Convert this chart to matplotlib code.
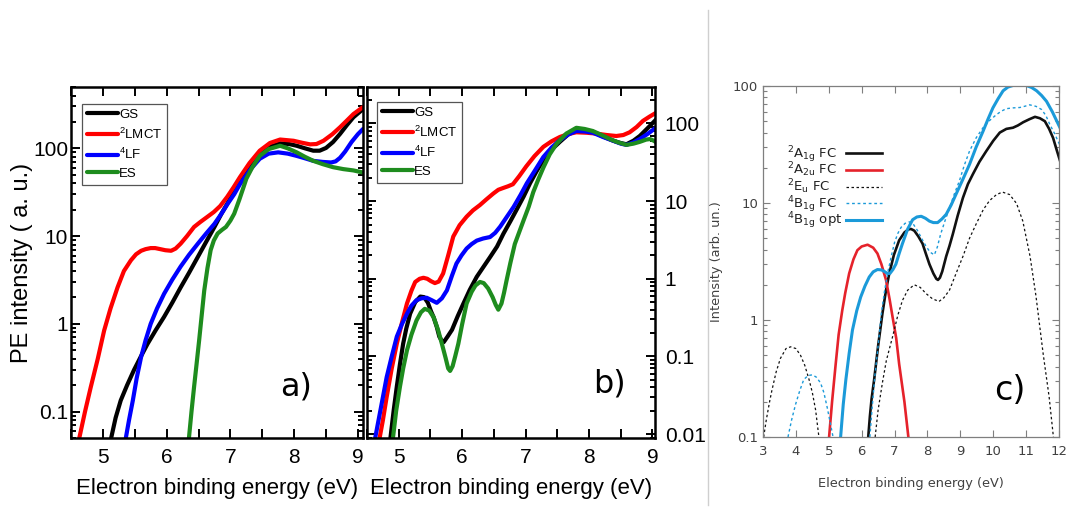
import numpy as np
import matplotlib
matplotlib.use("Agg")
import matplotlib.pyplot as plt
from matplotlib.ticker import FixedLocator, NullFormatter, LogLocator, MultipleLocator
from matplotlib.lines import Line2D

plt.rcParams['font.family'] = ['Liberation Sans', 'DejaVu Sans']
plt.rcParams['mathtext.fontset'] = 'custom'
plt.rcParams['mathtext.rm'] = 'Liberation Sans'
plt.rcParams['mathtext.it'] = 'Liberation Sans:italic'
plt.rcParams['mathtext.bf'] = 'Liberation Sans:bold'

# ---------------- panel a): computed PE spectra ----------------
a_gs_x = [5.13, 5.20, 5.28, 5.38, 5.49, 5.60, 5.70, 5.83, 5.96, 6.09, 6.22, 6.35, 6.49, 6.62, 6.75, 6.86, 6.96, 7.06,
          7.15, 7.30, 7.46, 7.62, 7.78, 7.92, 8.04, 8.17, 8.30, 8.40, 8.50, 8.61, 8.72, 8.83, 8.93, 9.08]
a_gs_y = [0.05, 0.085, 0.134, 0.20, 0.30, 0.43, 0.59, 0.85, 1.2, 1.75, 2.6, 3.8, 5.8, 8.6, 12.7, 18, 24, 32,
          43, 62, 86, 104, 114, 112, 107, 100, 94, 94, 101, 118, 146, 185, 226, 280]

a_lmct_x = [4.63, 4.72, 4.81, 4.92, 5.02, 5.12, 5.23, 5.33, 5.44, 5.52, 5.60, 5.67, 5.75, 5.82, 5.90, 5.98, 6.07, 6.14,
            6.22, 6.32, 6.43, 6.53, 6.64, 6.74, 6.84, 6.95, 7.05, 7.15, 7.30, 7.46, 7.62, 7.78, 7.99, 8.12, 8.25, 8.35,
            8.46, 8.60, 8.72, 8.82, 8.93, 9.08]
a_lmct_y = [0.05, 0.10, 0.19, 0.40, 0.84, 1.5, 2.6, 4.0, 5.3, 6.2, 6.8, 7.1, 7.3, 7.3, 7.1, 6.9, 6.8, 7.2,
            8.2, 10, 12.7, 14.5, 16.6, 18.8, 22, 28, 36, 47, 68, 94, 115, 126, 122, 116, 111, 112,
            122, 145, 174, 205, 246, 295]

a_lf_x = [5.36, 5.41, 5.47, 5.53, 5.60, 5.67, 5.75, 5.85, 5.96, 6.09, 6.22, 6.35, 6.49, 6.62, 6.75, 6.86, 6.96, 7.06,
          7.15, 7.30, 7.46, 7.60, 7.75, 7.90, 8.04, 8.17, 8.30, 8.45, 8.58, 8.65, 8.72, 8.80, 8.90, 9.00, 9.08]
a_lf_y = [0.05, 0.08, 0.134, 0.24, 0.42, 0.65, 1.0, 1.5, 2.2, 3.2, 4.5, 6.1, 8.2, 10.7, 13.8, 18, 23.5, 30,
          39, 56, 76, 87, 90, 87, 82, 77, 72, 70, 69, 71, 78, 92, 118, 145, 166]

a_es_x = [6.35, 6.39, 6.43, 6.47, 6.51, 6.55, 6.59, 6.64, 6.69, 6.74, 6.80, 6.87, 6.93, 7.00, 7.06, 7.14, 7.20, 7.25,
          7.35, 7.46, 7.60, 7.78, 7.90, 8.04, 8.17, 8.30, 8.45, 8.61, 8.77, 8.93, 9.08]
a_es_y = [0.05, 0.10, 0.19, 0.35, 0.65, 1.25, 2.4, 4.3, 6.9, 8.9, 10.7, 11.8, 12.7, 15, 18, 26, 35, 45,
          62, 82, 98, 107, 100, 90, 80, 72, 66, 61, 58, 56, 53]

# ---------------- panel b) ----------------
b_gs_x = [4.87, 4.92, 4.97, 5.02, 5.07, 5.12, 5.18, 5.26, 5.34, 5.40, 5.46, 5.51, 5.55, 5.60, 5.64, 5.68, 5.71, 5.77,
          5.84, 5.93, 6.02, 6.12, 6.23, 6.33, 6.44, 6.55, 6.65, 6.76, 6.86, 6.97, 7.07, 7.17, 7.28, 7.41, 7.54, 7.67,
          7.80, 7.93, 8.06, 8.22, 8.38, 8.50, 8.59, 8.70, 8.80, 8.93, 9.06]
b_gs_y = [0.009, 0.02, 0.041, 0.08, 0.146, 0.23, 0.355, 0.50, 0.59, 0.58, 0.49, 0.38, 0.32, 0.24, 0.18, 0.158, 0.153, 0.18,
          0.22, 0.33, 0.48, 0.72, 1.06, 1.4, 1.9, 2.6, 3.8, 5.5, 7.8, 11.5, 17, 24, 34, 46, 58, 72,
          82, 82, 78, 68, 60, 56, 54, 60, 69, 88, 113]

b_lmct_x = [4.70, 4.75, 4.81, 4.89, 4.97, 5.05, 5.13, 5.20, 5.26, 5.33, 5.39, 5.45, 5.51, 5.57, 5.63, 5.70, 5.78, 5.86,
            5.96, 6.07, 6.17, 6.28, 6.38, 6.49, 6.57, 6.65, 6.72, 6.80, 6.90, 7.01, 7.14, 7.28, 7.41, 7.54, 7.67, 7.80,
            7.96, 8.12, 8.28, 8.43, 8.54, 8.64, 8.75, 8.85, 8.95, 9.06]
b_lmct_y = [0.009, 0.015, 0.03, 0.07, 0.146, 0.27, 0.48, 0.70, 0.91, 1.0, 1.03, 1.0, 0.93, 0.88, 0.92, 1.17, 2.0, 3.5,
            4.9, 6.3, 7.6, 8.9, 10.5, 12.5, 14, 14.8, 15.5, 16.5, 21, 28, 38, 50, 59, 67, 73, 77,
            76, 74, 71, 69, 71, 77, 90, 108, 122, 138]

b_lf_x = [4.63, 4.72, 4.81, 4.89, 4.97, 5.05, 5.13, 5.20, 5.28, 5.36, 5.44, 5.52, 5.60, 5.68, 5.76, 5.84, 5.91, 5.99,
          6.07, 6.15, 6.23, 6.33, 6.44, 6.52, 6.60, 6.70, 6.81, 6.92, 7.02, 7.15, 7.28, 7.41, 7.54, 7.67, 7.80, 7.93,
          8.06, 8.22, 8.38, 8.50, 8.59, 8.70, 8.80, 8.93, 9.06]
b_lf_y = [0.009, 0.022, 0.054, 0.10, 0.18, 0.26, 0.355, 0.45, 0.53, 0.56, 0.57, 0.53, 0.49, 0.56, 0.71, 1.1, 1.57, 2.0,
          2.45, 2.8, 3.1, 3.3, 3.45, 3.9, 4.7, 6.2, 8.4, 12, 17, 25, 37, 49, 61, 72, 80, 79,
          76, 67, 60, 55, 53, 57, 63, 74, 89]

b_es_x = [4.91, 4.96, 5.02, 5.07, 5.13, 5.20, 5.28, 5.35, 5.41, 5.48, 5.55, 5.62, 5.68, 5.74, 5.78, 5.81, 5.85, 5.89,
          5.94, 6.00, 6.07, 6.15, 6.21, 6.28, 6.34, 6.41, 6.48, 6.53, 6.57, 6.62, 6.66, 6.70, 6.76, 6.83, 6.90, 6.97,
          7.05, 7.12, 7.20, 7.28, 7.38, 7.49, 7.64, 7.80, 7.93, 8.06, 8.20, 8.33, 8.46, 8.59, 8.70, 8.80, 8.90, 8.96,
          9.02, 9.09]
b_es_y = [0.009, 0.02, 0.041, 0.07, 0.12, 0.19, 0.29, 0.37, 0.41, 0.39, 0.32, 0.22, 0.146, 0.095, 0.07, 0.065, 0.075, 0.10,
          0.146, 0.26, 0.48, 0.68, 0.82, 0.91, 0.88, 0.75, 0.58, 0.46, 0.40, 0.48, 0.66, 0.95, 1.6, 2.8, 4.0, 5.7,
          8.5, 13, 19, 27, 40, 55, 74, 88, 85, 80, 71, 63, 57, 53, 55, 58, 62, 63,
          60, 55]

# ---------------- panel c): Franck-Condon spectra ----------------
c_a1g_x = [6.20, 6.25, 6.30, 6.38, 6.50, 6.63, 6.74, 6.84, 6.98, 7.14, 7.30, 7.42, 7.50, 7.60, 7.72, 7.85, 7.95, 8.06,
           8.18, 8.27, 8.32, 8.38, 8.45, 8.57, 8.67, 8.77, 8.92, 9.08, 9.23, 9.38, 9.58, 9.79, 10.00, 10.20, 10.40,
           10.60, 10.75, 10.91, 11.10, 11.27, 11.42, 11.57, 11.70, 11.82, 11.92, 12.03]
c_a1g_y = [0.1, 0.15, 0.21, 0.31, 0.6, 1.13, 1.8, 2.5, 3.6, 4.8, 5.6, 5.95, 6.0, 5.8, 5.2, 4.5, 3.7, 3.0,
           2.5, 2.25, 2.2, 2.3, 2.6, 3.5, 4.3, 5.4, 7.8, 11.1, 14.5, 17.6, 22.5, 27.8, 34, 40, 43,
           44, 46, 49, 52, 54.5, 53, 50, 43, 36, 29, 23]

c_a2u_x = [5.01, 5.10, 5.21, 5.30, 5.41, 5.50, 5.62, 5.75, 5.87, 6.00, 6.18, 6.35, 6.48, 6.60, 6.74, 6.85, 6.94, 7.05,
           7.14, 7.30, 7.42]
c_a2u_y = [0.1, 0.2, 0.42, 0.75, 1.21, 1.7, 2.5, 3.3, 3.95, 4.25, 4.4, 4.15, 3.7, 3.0, 2.2, 1.5, 1.06, 0.7,
           0.42, 0.2, 0.1]

c_eu_x = [3.02, 3.10, 3.20, 3.27, 3.40, 3.53, 3.70, 3.84, 4.00, 4.14, 4.27, 4.40, 4.50, 4.60, 4.65, 4.70, np.nan,
          6.41, 6.50, 6.63, 6.75, 6.94, 7.10, 7.24, 7.40, 7.60, 7.78, 7.96, 8.15, 8.35, 8.50, 8.67, 8.87, 9.08, 9.28,
          9.49, 9.70, 9.89, 10.10, 10.28, 10.50, 10.71, 10.90, 11.12, 11.30, 11.52, 11.70, 11.83]
c_eu_y = [0.1, 0.14, 0.2, 0.25, 0.36, 0.47, 0.57, 0.59, 0.57, 0.50, 0.41, 0.31, 0.24, 0.17, 0.13, 0.1, np.nan,
          0.1, 0.17, 0.29, 0.45, 0.72, 1.1, 1.47, 1.8, 2.0, 1.9, 1.68, 1.52, 1.44, 1.55, 1.8, 2.5, 3.5, 5.0,
          6.7, 8.8, 10.5, 11.8, 12.4, 11.8, 9.9, 7.0, 3.5, 1.6, 0.51, 0.22, 0.1]

c_b1g_x = [3.76, 3.87, 3.99, 4.12, 4.24, 4.37, 4.50, 4.62, 4.75, 4.85, 4.95, 5.05, 5.13, np.nan,
           6.25, 6.32, 6.40, 6.50, 6.60, 6.70, 6.80, 6.90, 7.00, 7.10, 7.20, 7.32, 7.45, 7.57, 7.70, 7.82, 7.95, 8.08,
           8.21, 8.30, 8.40, 8.53, 8.67, 8.82, 8.97, 9.12, 9.28, 9.48, 9.69, 9.90, 10.10, 10.25, 10.40, 10.60, 10.81,
           10.95, 11.11, 11.30, 11.47, 11.60, 11.72, 11.87, 12.03]
c_b1g_y = [0.1, 0.14, 0.19, 0.25, 0.31, 0.335, 0.34, 0.325, 0.29, 0.24, 0.18, 0.13, 0.1, np.nan,
           0.1, 0.18, 0.33, 0.6, 1.15, 1.8, 2.6, 3.5, 4.6, 5.5, 6.2, 6.7, 6.9, 6.6, 5.8, 5.0, 4.3, 3.8,
           3.6, 4.2, 5.4, 7.0, 9.1, 12, 15.4, 21, 27.8, 36, 44, 51, 57, 61, 64, 65, 65.5,
           67, 69, 67, 63, 56, 47, 39, 31]

c_opt_x = [5.36, 5.44, 5.52, 5.62, 5.72, 5.85, 5.97, 6.10, 6.23, 6.35, 6.48, 6.60, 6.69, 6.78, 6.86, 6.95, 7.04, 7.14,
           7.24, 7.40, 7.55, 7.68, 7.81, 7.94, 8.06, 8.18, 8.31, 8.44, 8.57, 8.72, 8.87, 9.08, 9.28, 9.48, 9.69, 9.84,
           9.99, 10.15, 10.30, 10.45, 10.60, 10.80, 11.01, 11.17, 11.32, 11.47, 11.62, 11.80, 11.92, 12.03]
c_opt_y = [0.1, 0.19, 0.31, 0.52, 0.82, 1.2, 1.57, 1.95, 2.33, 2.58, 2.7, 2.68, 2.6, 2.5, 2.5, 2.7, 3.0, 3.7,
           4.5, 6.0, 7.2, 7.6, 7.7, 7.4, 7.0, 6.8, 6.8, 7.3, 8.0, 9.6, 11.9, 16, 21.4, 30, 41, 52,
           65, 78, 91, 98, 101, 103, 101, 97, 91, 83, 74, 60, 51, 44]

ab_labels = ['GS', r'$^{2}$LMCT', r'$^{4}$LF', 'ES']
ab_colors = ['#000000', '#ff0000', '#0000ff', '#1e8c1e']
c_labels = [r'$^{2}$A$_{\mathrm{1g}}$ FC', r'$^{2}$A$_{\mathrm{2u}}$ FC', r'$^{2}$E$_{\mathrm{u}}$ FC',
            r'$^{4}$B$_{\mathrm{1g}}$ FC', r'$^{4}$B$_{\mathrm{1g}}$ opt']

W, H = 1067, 507
fig = plt.figure(figsize=(W / 100, H / 100), dpi=100)


def box(l, t, r, b):
    return [l / W, 1 - b / H, (r - l) / W, (b - t) / H]


ax_a = fig.add_axes(box(71, 87, 363, 438))
ax_b = fig.add_axes(box(367, 87, 655, 438))
ax_c = fig.add_axes(box(763, 86, 1059, 437))


def style_ab(ax, yticks, ylabels, right):
    ax.set_yscale('log')
    for s in ax.spines.values():
        s.set_linewidth(1.8)
    ax.xaxis.set_major_locator(FixedLocator([5, 6, 7, 8, 9]))
    ax.xaxis.set_minor_locator(MultipleLocator(0.5))
    ax.yaxis.set_major_locator(FixedLocator(yticks))
    ax.set_yticklabels(ylabels)
    ax.yaxis.set_minor_locator(LogLocator(base=10, subs=np.arange(2, 10)))
    ax.yaxis.set_minor_formatter(NullFormatter())
    ax.tick_params(which='both', direction='in', top=True, right=True, width=1.4, labelsize=15)
    ax.tick_params(axis='x', which='both', length=6.5, pad=7)
    ax.tick_params(axis='y', which='major', length=6.5)
    ax.tick_params(axis='y', which='minor', length=3.5)
    if right:
        ax.tick_params(axis='y', labelleft=False, labelright=True, pad=7)
    else:
        ax.tick_params(axis='y', pad=2)
    ax.set_xlabel('Electron binding energy (eV)', fontsize=16)
    ax.xaxis.set_label_coords(0.5, -0.115)


# panel a
for xs, ys, c, lab in zip([a_gs_x, a_lmct_x, a_lf_x, a_es_x], [a_gs_y, a_lmct_y, a_lf_y, a_es_y], ab_colors, ab_labels):
    ax_a.plot(xs, ys, color=c, lw=3.0, label=lab, solid_capstyle='round', solid_joinstyle='round')
ax_a.set_xlim(4.5, 9.08)
ax_a.set_ylim(0.05, 500)
style_ab(ax_a, [0.1, 1, 10, 100], ['0.1', '1', '10', '100'], right=False)
ax_a.set_ylabel('PE intensity ( a. u.)', fontsize=17)
ax_a.yaxis.set_label_coords(-0.13, 0.5)
ax_a.text(0.715, 0.122, 'a)', transform=ax_a.transAxes, fontsize=23, family='DejaVu Sans', va='baseline')

# panel b
for xs, ys, c, lab in zip([b_gs_x, b_lmct_x, b_lf_x, b_es_x], [b_gs_y, b_lmct_y, b_lf_y, b_es_y], ab_colors, ab_labels):
    ax_b.plot(xs, ys, color=c, lw=3.0, label=lab, solid_capstyle='round', solid_joinstyle='round')
ax_b.set_xlim(4.5, 9.04)
ax_b.set_ylim(0.0089, 295)
style_ab(ax_b, [0.01, 0.1, 1, 10, 100], ['0.01', '0.1', '1', '10', '100'], right=True)
ax_b.text(0.785, 0.131, 'b)', transform=ax_b.transAxes, fontsize=23, family='DejaVu Sans', va='baseline')

for ax, anchor in [(ax_a, (11 / 292, 1 - 17 / 351)), (ax_b, (10 / 288, 1 - 15 / 351))]:
    leg = ax.legend(loc='upper left', bbox_to_anchor=anchor, borderaxespad=0, fontsize=9.5,
                    fancybox=False, edgecolor='#555555', framealpha=1, borderpad=0.35,
                    labelspacing=0.42, handlelength=2.35, handletextpad=0.12)
    leg.get_frame().set_linewidth(0.9)

# panel c
grey = '#7f7f7f'
txt = '#404040'
cblue = '#1b9ad9'
cred = '#e5222b'
c_styles = [dict(color='#111111', lw=1.9, ls='-'),
            dict(color=cred, lw=1.9, ls='-'),
            dict(color='#111111', lw=0.9, ls=(0, (2, 2))),
            dict(color=cblue, lw=1.0, ls=(0, (2, 2))),
            dict(color=cblue, lw=2.2, ls='-')]
c_series = [(c_a1g_x, c_a1g_y), (c_a2u_x, c_a2u_y), (c_eu_x, c_eu_y), (c_b1g_x, c_b1g_y), (c_opt_x, c_opt_y)]
for (xs, ys), st in zip(c_series, c_styles):
    ax_c.plot(xs, ys, solid_joinstyle='round', **st)
ax_c.set_yscale('log')
ax_c.set_xlim(3, 12)
ax_c.set_ylim(0.1, 100)
ax_c.xaxis.set_major_locator(FixedLocator(range(3, 13)))
ax_c.yaxis.set_major_locator(FixedLocator([0.1, 1, 10, 100]))
ax_c.set_yticklabels(['0.1', '1', '10', '100'])
ax_c.yaxis.set_minor_locator(LogLocator(base=10, subs=np.arange(2, 10)))
ax_c.yaxis.set_minor_formatter(NullFormatter())
for s in ax_c.spines.values():
    s.set_color(grey)
    s.set_linewidth(0.9)
ax_c.tick_params(which='both', direction='in', top=True, right=True, color=grey, width=0.8,
                 labelsize=9.5, labelcolor=txt, labelfontfamily='DejaVu Sans')
ax_c.tick_params(which='major', length=5)
ax_c.tick_params(which='minor', length=3)
ax_c.tick_params(axis='x', pad=6)
ax_c.set_xlabel('Electron binding energy (eV)', fontsize=9.3, color=txt, family='DejaVu Sans')
ax_c.xaxis.set_label_coords(0.5, -0.115)
ax_c.set_ylabel('Intensity (arb. un.)', fontsize=9.3, color=txt, family='DejaVu Sans')
ax_c.yaxis.set_label_coords(-0.135, 0.5)

# key for panel c: label on the left, line sample on the right
key_rows = [153.3, 170.0, 186.7, 203.3, 220.0]
for lab, st, py in zip(c_labels, c_styles, key_rows):
    yk = (437 - py) / 351
    ax_c.add_line(Line2D([(846 - 763) / 296, (882 - 763) / 296], [yk, yk], transform=ax_c.transAxes, **st))
    ax_c.text((787 - 763) / 296, yk - 4.5 / 351, lab, transform=ax_c.transAxes, fontsize=9.5,
              family='DejaVu Sans', math_fontfamily='dejavusans', color='#222222', va='baseline', ha='left')

ax_c.text(0.782, 0.105, 'c)', transform=ax_c.transAxes, fontsize=24, family='DejaVu Sans', va='baseline')

# divider between the two figure halves
fig.add_artist(Line2D([708 / W, 708 / W], [1 - 505 / H, 1 - 10 / H], transform=fig.transFigure,
                      color='#cfcfcf', lw=1.0))

fig.savefig('out.png', dpi=100)
